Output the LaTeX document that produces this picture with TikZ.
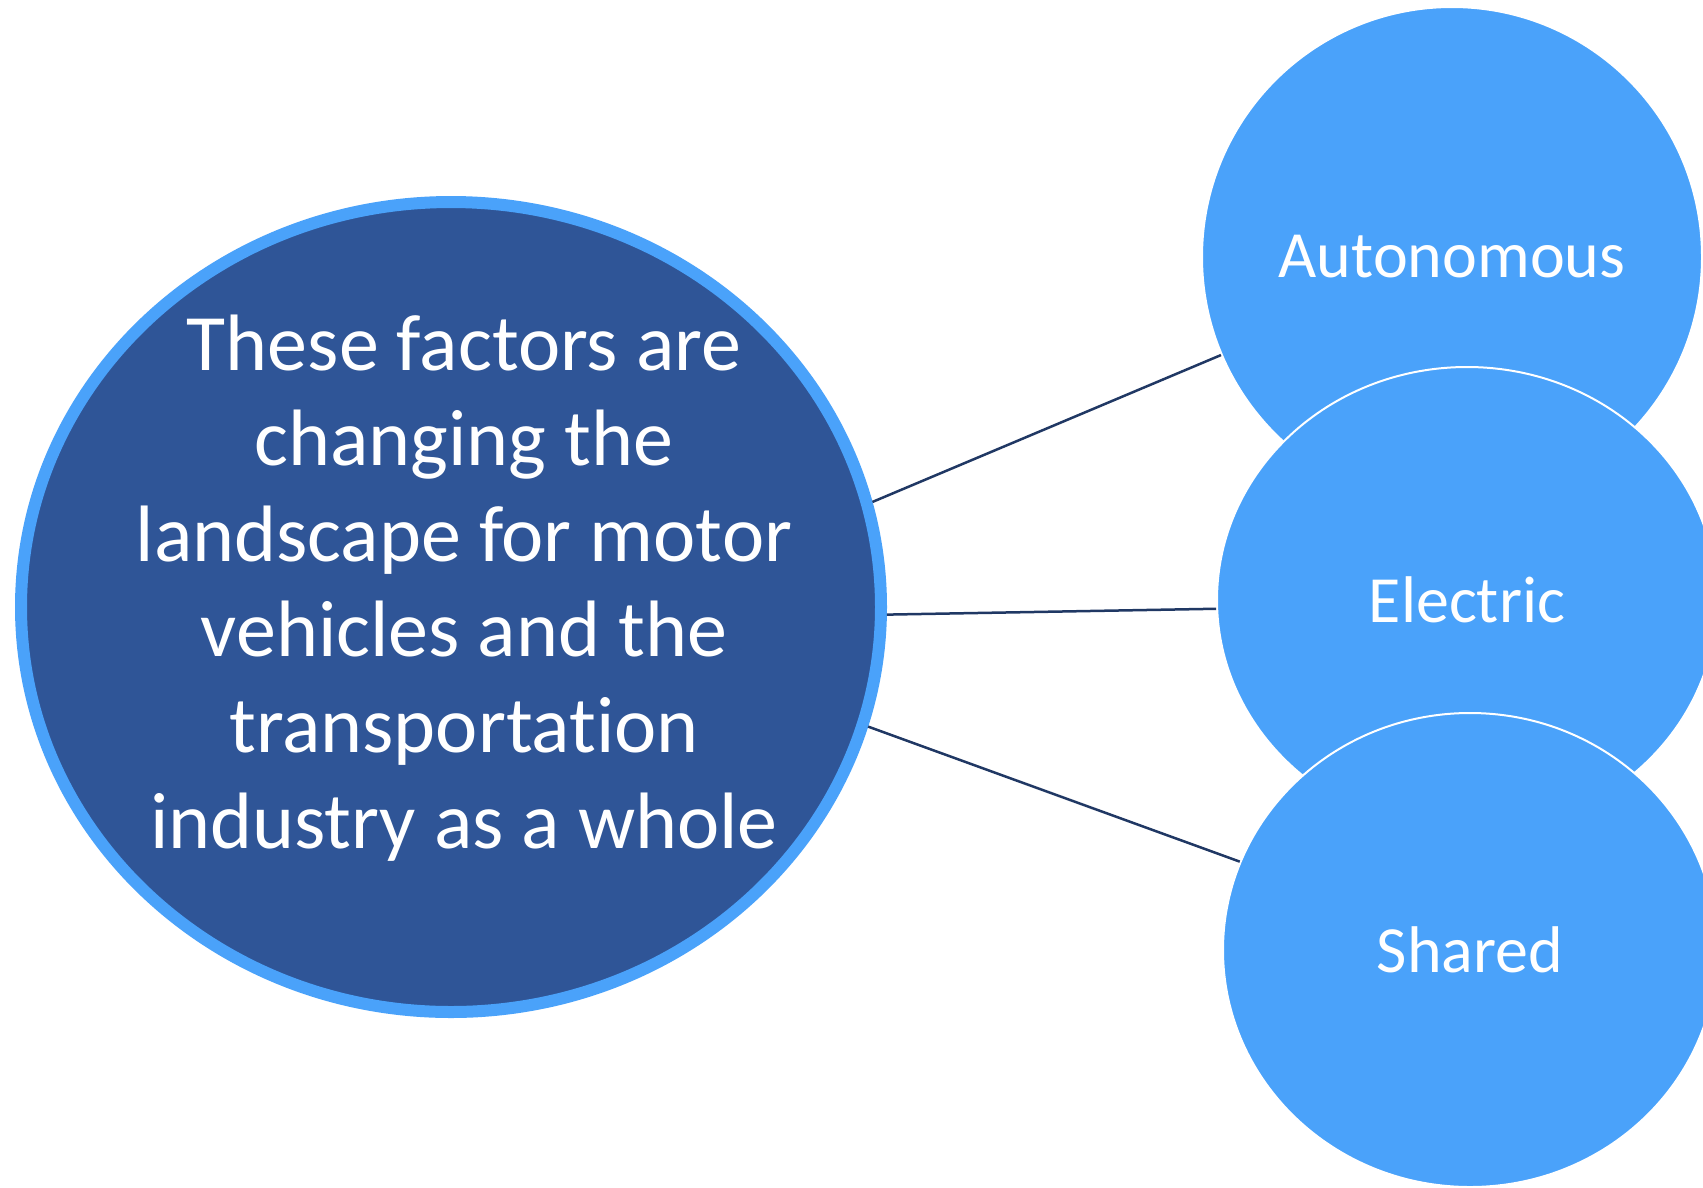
\documentclass[tikz,border=0pt]{standalone}
\usepackage{fontspec}
\setmainfont{Carlito}[Ligatures={NoCommon,NoRequired,NoContextual}]
\usetikzlibrary{shapes.geometric}
\definecolor{lightblue}{HTML}{4AA2FA}
\definecolor{darkblue}{HTML}{2F5597}
\definecolor{navy}{HTML}{203864}
\tikzset{
  bigoval/.style={ellipse, fill=darkblue, draw=lightblue, line width=12pt,
    minimum width=860pt, minimum height=810pt, inner sep=0pt},
  factor/.style={ellipse, fill=lightblue, draw=white, line width=2pt,
    inner sep=0pt, text=white, font=\fontsize{66}{79}\selectfont},
  bigtext/.style={text=white, align=center, font=\fontsize{80}{95.6}\selectfont},
  conn/.style={draw=navy, line width=2.5pt}
}
\begin{document}
\begin{tikzpicture}[x=1pt,y=-1pt]
\useasboundingbox (0,0) rectangle (1703,1187);
\clip (0,0) rectangle (1703,1187);
\fill[white] (0,0) rectangle (1703,1187);
\node[factor, minimum width=500pt, minimum height=500pt] (auto) at (1452,257) {Autonomous};
\node[factor, minimum width=500pt, minimum height=466pt] (elec) at (1467,600) {Electric};
\node[factor, minimum width=494pt, minimum height=474pt] (shared) at (1470,950) {Shared};
\node[bigoval] (big) at (451,607) {};
\node[bigtext, anchor=base] (txt) at (464,848) {These factors are\\changing the\\landscape for motor\\vehicles and the\\transportation\\industry as a whole};
\draw[conn] (big.14.1) -- (auto.203.9);
\draw[conn] (big.-1.45) -- (elec.182.1);
\draw[conn] (big.-16.0) -- (shared.159.2);
\end{tikzpicture}
\end{document}
